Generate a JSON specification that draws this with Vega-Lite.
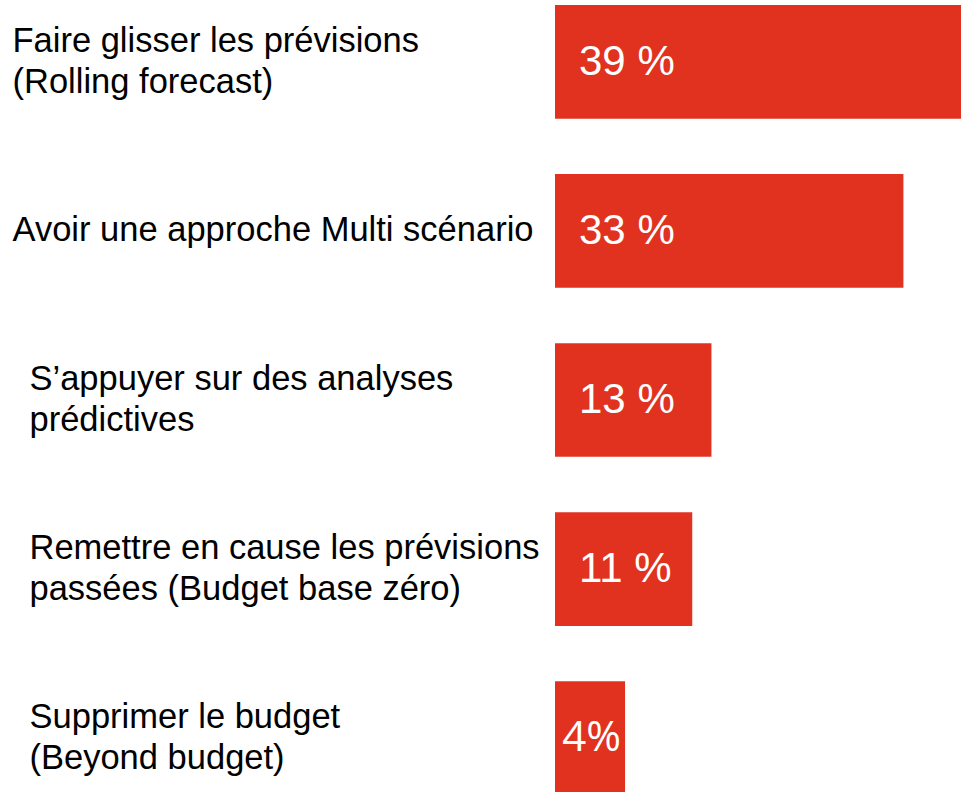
{
  "$schema": "https://vega.github.io/schema/vega-lite/v6.json",
  "width": 406,
  "height": 790,
  "autosize": {"type": "none"},
  "padding": {"left": 555, "top": 5, "right": 0, "bottom": 0},
  "background": "white",
  "config": {"view": {"stroke": null}},
  "data": {
    "values": [
      {"label": "Faire glisser les prévisions\n(Rolling forecast)", "value": 39, "text": "39 %"},
      {"label": "Avoir une approche Multi scénario", "value": 33, "text": "33 %"},
      {"label": "S’appuyer sur des analyses\nprédictives", "value": 13, "text": "13 %"},
      {"label": "Remettre en cause les prévisions\npassées (Budget base zéro)", "value": 11, "text": "11 %"},
      {"label": "Supprimer le budget\n(Beyond budget)", "value": 4, "text": "4%"}
    ]
  },
  "encoding": {
    "y": {
      "field": "label",
      "type": "nominal",
      "sort": null,
      "title": null,
      "scale": {"paddingInner": 0.328, "paddingOuter": 0},
      "axis": {
        "domain": false,
        "ticks": false,
        "labelAlign": "left",
        "labelBaseline": "middle",
        "labelFont": "Liberation Sans",
        "labelFontSize": 34.5,
        "labelLineHeight": 41,
        "labelColor": "black",
        "labelLimit": 700,
        "labelExpr": "split(datum.label, '\\n')",
        "labelPadding": {"condition": {"test": "datum.index < 0.3", "value": 543}, "value": 526},
        "labelOffset": {"condition": {"test": "indexof(datum.value, '\\n') >= 0", "value": -20}, "value": 0}
      }
    }
  },
  "layer": [
    {
      "mark": {"type": "bar", "color": "#E0321F"},
      "encoding": {
        "x": {"field": "value", "type": "quantitative", "scale": {"domain": [-3.3, 39], "nice": false, "zero": false}, "axis": null},
        "x2": {"datum": -3.3}
      }
    },
    {
      "transform": [{"filter": "datum.value >= 10"}],
      "mark": {"type": "text", "align": "left", "baseline": "middle", "dx": 24, "font": "Liberation Sans", "fontSize": 42, "color": "white"},
      "encoding": {"x": {"datum": -3.3}, "text": {"field": "text"}}
    },
    {
      "transform": [{"filter": "datum.value < 10"}],
      "mark": {"type": "text", "align": "right", "baseline": "middle", "dx": -4, "font": "Open Sans", "fontSize": 42, "color": "white"},
      "encoding": {"x": {"field": "value", "type": "quantitative"}, "text": {"field": "text"}}
    }
  ]
}
